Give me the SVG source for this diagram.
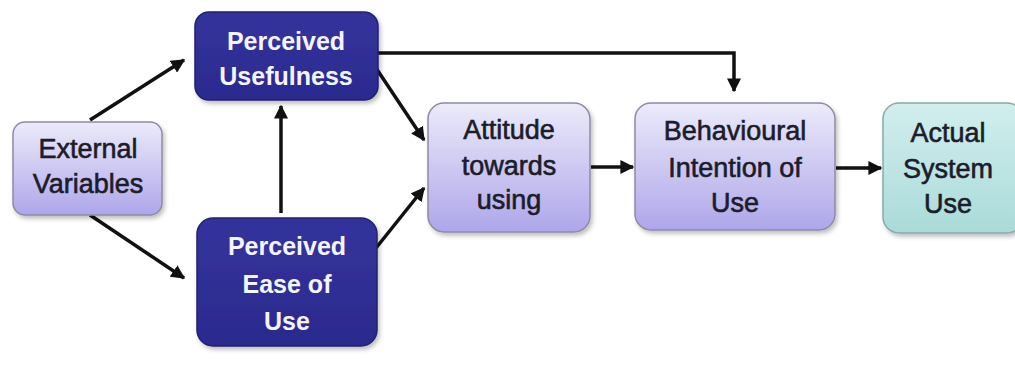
<svg xmlns="http://www.w3.org/2000/svg" width="1015" height="365" viewBox="0 0 1015 365">
<defs>
<linearGradient id="gLight" x1="0" y1="0" x2="0" y2="1">
<stop offset="0" stop-color="#ecebfa"/>
<stop offset="1" stop-color="#aea6ea"/>
</linearGradient>
<linearGradient id="gTeal" x1="0" y1="0" x2="0" y2="1">
<stop offset="0" stop-color="#d2eeee"/>
<stop offset="1" stop-color="#a9dbd9"/>
</linearGradient>
<linearGradient id="gDark" x1="0" y1="0" x2="0" y2="1">
<stop offset="0" stop-color="#33339c"/>
<stop offset="1" stop-color="#2b2a8e"/>
</linearGradient>
<marker id="ah" viewBox="0 0 10 10" refX="9" refY="5" markerWidth="4" markerHeight="4" orient="auto" markerUnits="strokeWidth">
<path d="M0,0 L10,5 L0,10 Z" fill="#111"/>
</marker>
<filter id="sh" x="-10%" y="-10%" width="130%" height="130%">
<feDropShadow dx="2" dy="3" stdDeviation="2" flood-color="#000" flood-opacity="0.25"/>
</filter>
</defs>
<style>
.light{fill:url(#gLight);stroke:#8d8aa6;stroke-width:1.5}
.teal{fill:url(#gTeal);stroke:#8aa9a8;stroke-width:1.5}
.dark{fill:url(#gDark);stroke:#22226e;stroke-width:1.5}
.lt{font-family:"Liberation Sans",Arial,sans-serif;font-size:27px;fill:#1c1c2a;stroke:#1c1c2a;stroke-width:0.6;text-anchor:middle}
.dt{font-family:"Liberation Sans",Arial,sans-serif;font-size:25px;font-weight:bold;fill:#f4f4ff;text-anchor:middle}
.conn{fill:none;stroke:#111;stroke-width:3.5;marker-end:url(#ah)}
</style>
<rect width="1015" height="365" fill="#ffffff"/>
<g id="connectors">
<line class="conn" x1="90" y1="120" x2="184" y2="60"/>
<line class="conn" x1="90" y1="215" x2="184" y2="278"/>
<line class="conn" x1="281" y1="213" x2="281" y2="106"/>
<line class="conn" x1="376" y1="68" x2="424" y2="140"/>
<line class="conn" x1="376" y1="248" x2="424" y2="188"/>
<polyline class="conn" points="378,53 734,53 734,91"/>
<line class="conn" x1="591" y1="167" x2="633" y2="167"/>
<line class="conn" x1="836" y1="168" x2="881" y2="168"/>
</g>
<g id="external-variables">
<rect class="light" x="13" y="122" width="149" height="93" rx="12" filter="url(#sh)"/>
<text class="lt" x="88" y="158">External</text>
<text class="lt" x="88" y="193">Variables</text>
</g>
<g id="perceived-usefulness">
<rect class="dark" x="195" y="12" width="183" height="88" rx="14" filter="url(#sh)"/>
<text class="dt" x="286" y="50">Perceived</text>
<text class="dt" x="286" y="85">Usefulness</text>
</g>
<g id="perceived-ease-of-use">
<rect class="dark" x="197" y="218" width="180" height="128" rx="16" filter="url(#sh)"/>
<text class="dt" x="287" y="255">Perceived</text>
<text class="dt" x="287" y="293">Ease of</text>
<text class="dt" x="287" y="330">Use</text>
</g>
<g id="attitude">
<rect class="light" x="428" y="103" width="162" height="129" rx="16" filter="url(#sh)"/>
<text class="lt" x="509" y="139">Attitude</text>
<text class="lt" x="509" y="175">towards</text>
<text class="lt" x="509" y="209">using</text>
</g>
<g id="behavioural-intention">
<rect class="light" x="635" y="103" width="200" height="127" rx="16" filter="url(#sh)"/>
<text class="lt" x="735" y="140">Behavioural</text>
<text class="lt" x="735" y="177">Intention of</text>
<text class="lt" x="735" y="212">Use</text>
</g>
<g id="actual-system-use">
<rect class="teal" x="883" y="103" width="140" height="130" rx="16" filter="url(#sh)"/>
<text class="lt" x="948" y="142">Actual</text>
<text class="lt" x="948" y="178">System</text>
<text class="lt" x="948" y="213">Use</text>
</g>
</svg>
